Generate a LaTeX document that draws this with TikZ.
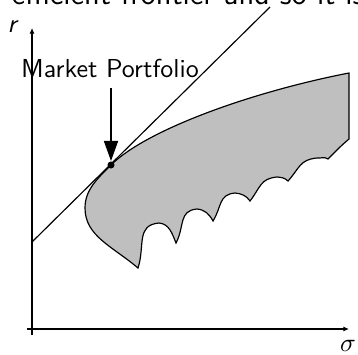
\documentclass[tikz,border=0pt]{standalone}
\usepackage{tikz}
\usetikzlibrary{arrows.meta,positioning}
\definecolor{setgray}{gray}{0.75}
\tikzset{
  axis/.style={-{Latex[length=2.2pt,width=2pt]}, line width=0.4pt},
  cml/.style={line width=0.45pt},
  frontier/.style={draw=black, fill=setgray, line width=0.45pt},
  mktdot/.style={circle, fill=black, inner sep=0pt, minimum size=2.7pt},
  pointer/.style={-{Triangle[length=7.7pt,width=5.4pt]}, line width=0.6pt},
  lbl/.style={font=\sffamily, inner sep=0pt},
}

\begin{document}
\begin{tikzpicture}[x=0.385pt,y=0.385pt]
  \useasboundingbox (0,0) rectangle (358,354);
  \node[lbl, font=\sffamily\large, anchor=base west] (cut) at (11,349) {efficient frontier and so it is};
  % attainable set
  \draw[frontier] (349,281) .. controls (251,262) and (146,224) .. (111,189)
    .. controls (97,175) and (85,164) .. (85,146)
    .. controls (85,118) and (112,108) .. (138,86)
    to[out=72,in=185,looseness=1.2] (159,131) to[out=-5,in=112] (176,111)
    to[out=62,in=185,looseness=1.2] (197,145) to[out=-5,in=118] (213,133)
    to[out=58,in=185,looseness=1.2] (235,161) to[out=-5,in=125] (250,153)
    to[out=52,in=185,looseness=1.2] (277,177) to[out=-5,in=135] (288,173)
    to[out=48,in=185,looseness=1.2] (317,196) to[out=-5,in=145] (328,195)
    to[out=45,in=220] (349,215) -- cycle;
  % axes
  \coordinate (xa) at (27,25);
  \coordinate (xb) at (349,25);
  \coordinate (ya) at (32,19);
  \coordinate (yb) at (32,326);
  \draw[axis] (xa) -- (xb);
  \draw[axis] (ya) -- (yb);
  \node[lbl] (rlab) at (12,327) {\itshape r};
  \node[lbl] (slab) at (348,8) {$\sigma$};
  % capital market line
  \coordinate (cmla) at (32,112);
  \coordinate (cmlb) at (270,347);
  \draw[cml] (cmla) -- (cmlb);
  \node[mktdot] (mkt) at (111,189) {};
  \node[lbl] (mp) at (110,286) {Market Portfolio};
  \draw[pointer] (mp.south -| mkt) ++(0,-10) -- (mkt);
\end{tikzpicture}
\end{document}
